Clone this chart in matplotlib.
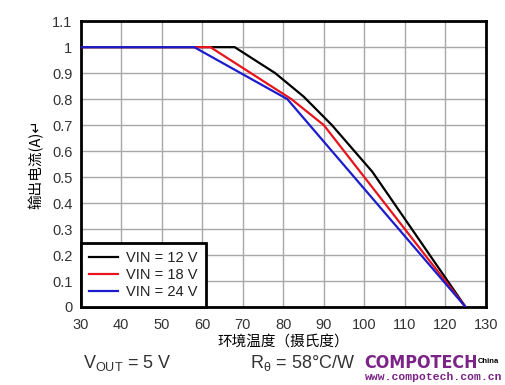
import matplotlib
matplotlib.use("Agg")
import matplotlib.pyplot as plt

# data
vin_labels = ["VIN = 12 V", "VIN = 18 V", "VIN = 24 V"]
line_colors = ["#000000", "#e8141c", "#1c1ccc"]

temp_12 = [30, 68, 78, 85, 92, 102, 125]
curr_12 = [1.0, 1.0, 0.90, 0.81, 0.70, 0.52, 0.0]

temp_18 = [30, 62, 82, 90, 104, 125]
curr_18 = [1.0, 1.0, 0.80, 0.70, 0.42, 0.0]

temp_24 = [30, 58, 81, 125]
curr_24 = [1.0, 1.0, 0.80, 0.0]

x_ticks = list(range(30, 131, 10))
y_ticks = [0, 0.1, 0.2, 0.3, 0.4, 0.5, 0.6, 0.7, 0.8, 0.9, 1, 1.1]
y_tick_labels = ["0", "0.1", "0.2", "0.3", "0.4", "0.5", "0.6", "0.7", "0.8", "0.9", "1", "1.1"]

plt.rcParams['font.family'] = ['Liberation Sans', 'Noto Sans CJK SC', 'DejaVu Sans']

fig = plt.figure(figsize=(5.05, 3.85), dpi=100, facecolor="white")
ax = fig.add_axes([0.160, 0.2026, 0.802, 0.7424])

for t, c, lab, col in zip([temp_12, temp_18, temp_24], [curr_12, curr_18, curr_24], vin_labels, line_colors):
    ax.plot(t, c, color=col, lw=1.6, label=lab, solid_joinstyle="miter", zorder=3)

ax.set_xlim(30, 130)
ax.set_ylim(0, 1.1)
ax.set_xticks(x_ticks)
ax.set_yticks(y_ticks)
ax.set_yticklabels(y_tick_labels)
ax.tick_params(length=0, labelsize=10.5, labelcolor="#333333")
ax.tick_params(axis="x", pad=8)
ax.tick_params(axis="y", pad=6)
ax.grid(True, color="#a8a8a8", lw=1.0, zorder=1)
for s in ax.spines.values():
    s.set_linewidth(2.0)
    s.set_color("black")

ax.set_xlabel("环境温度（摄氏度）", fontsize=10.5, family=['Noto Sans CJK SC', 'DejaVu Sans'], labelpad=2)
ax.set_ylabel("输出电流(A)↵", fontsize=10.5, family=['Noto Sans CJK SC', 'DejaVu Sans'], labelpad=6)

leg = ax.legend(loc="lower left", bbox_to_anchor=(0, 0), borderaxespad=0, fancybox=False,
                framealpha=1, edgecolor="black", fontsize=10.5, handlelength=2.0,
                labelspacing=0.2, borderpad=0.55, handletextpad=0.55)
leg.get_frame().set_linewidth(2.0)
leg.set_zorder(5)
for txt in leg.get_texts():
    txt.set_color("#222222")

fig.text(0.165, 0.045, r"V$_{\mathregular{OUT}}$ = 5 V", fontsize=13, color="#333333")
fig.text(0.495, 0.045, r"R$_{\mathregular{\theta}}$ = 58°C/W", fontsize=13, color="#333333")

fig.text(0.722, 0.044, "COMPOTECH", fontsize=12.8, fontweight="bold", color="#7b2386",
         family="DejaVu Sans", fontstretch="condensed")
fig.text(0.947, 0.058, "China", fontsize=5.5, fontweight="bold", color="black")
fig.text(0.722, 0.012, "www.compotech.com.cn", fontsize=8.2, fontweight="bold", color="#7b2386",
         family=['Liberation Mono', 'DejaVu Sans Mono'])

fig.savefig("out.png", dpi=100)
